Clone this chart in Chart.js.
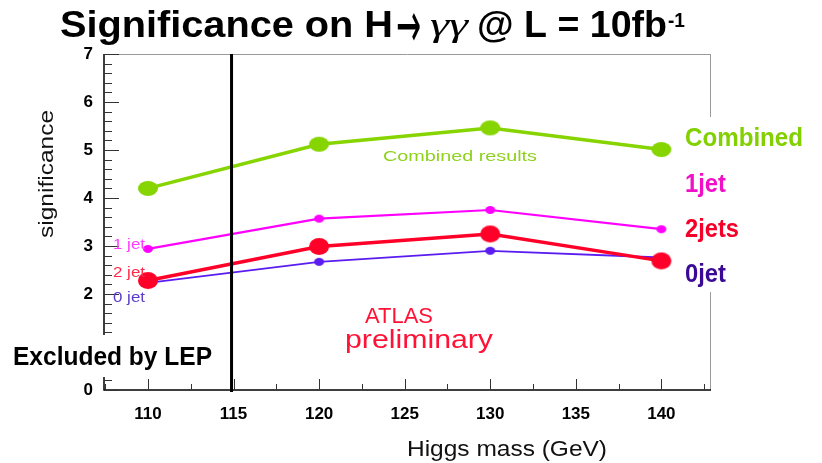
<!DOCTYPE html>
<html>
<head>
<meta charset="utf-8">
<script src="https://cdn.jsdelivr.net/npm/chart.js@4/dist/chart.umd.min.js"></script>
<style>
html,body{margin:0;padding:0;background:#fff;}
#wrap{width:822px;height:463px;position:relative;}
</style>
</head>
<body>
<div id="wrap"><canvas id="c" width="822" height="463"></canvas></div>
<script>
// ---- data ----
const masses = [110, 120, 130, 140];
const combined = [4.20, 5.12, 5.46, 5.01];
const oneJet = [2.94, 3.57, 3.75, 3.35];
const twoJets = [2.28, 2.99, 3.25, 2.69];
const zeroJet = [2.23, 2.67, 2.90, 2.76];
const xTickLabels = [110, 115, 120, 125, 130, 135, 140];
const yTickLabels = [0, 2, 3, 4, 5, 6, 7];
const lepLimit = 115;

function pts(vals){ return masses.map((m,i)=>({x:m, y:vals[i]})); }

// elliptical marker (the original picture is stretched horizontally)
function ellipse(color, rx, ry){
  const c = document.createElement('canvas');
  c.width = Math.ceil(rx*2) + 2; c.height = Math.ceil(ry*2) + 2;
  const g = c.getContext('2d');
  g.fillStyle = color;
  g.beginPath();
  g.ellipse(c.width/2, c.height/2, rx, ry, 0, 0, Math.PI*2);
  g.fill();
  return c;
}

function fitText(ctx, text, font, color, x, y, w, sy){
  ctx.save();
  ctx.font = font;
  ctx.fillStyle = color;
  ctx.textBaseline = 'alphabetic';
  ctx.textAlign = 'left';
  const m = ctx.measureText(text).width;
  ctx.translate(x, y);
  ctx.scale(w / m, sy || 1);
  ctx.fillText(text, 0, 0);
  ctx.restore();
}

const SANS = '"Liberation Sans", Arial, sans-serif';

const decor = {
  id: 'decor',
  beforeDraw(chart){
    const ctx = chart.ctx;
    ctx.save();
    ctx.fillStyle = '#fff';
    ctx.fillRect(0,0,chart.width,chart.height);
    ctx.restore();
  },
  afterDraw(chart){
    const ctx = chart.ctx;
    const xs = chart.scales.x, ys = chart.scales.y;
    const a = chart.chartArea;
    ctx.save();
    // frame
    ctx.strokeStyle = '#9a9a9a';
    ctx.lineWidth = 1;
    ctx.beginPath();
    ctx.moveTo(a.left, a.top + 0.5); ctx.lineTo(a.right, a.top + 0.5);
    ctx.moveTo(a.right - 0.5, a.top); ctx.lineTo(a.right - 0.5, a.bottom);
    ctx.stroke();
    ctx.strokeStyle = '#000';
    ctx.lineWidth = 1.5;
    ctx.beginPath();
    ctx.moveTo(a.left, a.top); ctx.lineTo(a.left, a.bottom);
    ctx.lineTo(a.right, a.bottom);
    ctx.stroke();
    // y ticks (inward)
    ctx.lineWidth = 1;
    ctx.strokeStyle = '#333';
    ctx.beginPath();
    for (let k = 0; k <= 35; k++){
      const v = k * 0.2;
      const py = Math.round(ys.getPixelForValue(v)) + 0.5;
      const len = (k % 5 === 0) ? 15 : 8;
      ctx.moveTo(a.left, py); ctx.lineTo(a.left + len, py);
    }
    // x ticks (inward)
    for (let v = 107.5; v <= 142.6; v += 2.5){
      const px = Math.round(xs.getPixelForValue(v)) + 0.5;
      const len = (Math.abs(v % 5) < 0.01) ? 11 : 6;
      ctx.moveTo(px, a.bottom); ctx.lineTo(px, a.bottom - len);
    }
    ctx.stroke();
    // LEP exclusion line
    ctx.strokeStyle = '#000';
    ctx.lineWidth = 3;
    const lx = xs.getPixelForValue(lepLimit) - 2;
    ctx.beginPath();
    ctx.moveTo(lx, a.top); ctx.lineTo(lx, a.bottom + 2);
    ctx.stroke();
    // white boxes behind labels
    ctx.fillStyle = '#fff';
    ctx.fillRect(8, 335, 208, 42);
    ctx.fillRect(680, 117, 142, 175);
    ctx.restore();

    // title
    fitText(ctx, 'Significance on H', 'bold 36px ' + SANS, '#000', 60, 37, 333);
    fitText(ctx, '\u2192', '40px "DejaVu Sans", sans-serif', '#000', 396, 47, 25, 1.6);
    fitText(ctx, '\u03b3\u03b3', 'italic 33px "Liberation Serif", serif', '#000', 430, 36, 38);
    fitText(ctx, '@ L = 10fb', 'bold 36px ' + SANS, '#000', 477, 37, 190);
    fitText(ctx, '-1', 'bold 20px ' + SANS, '#000', 668, 27, 17);

    // axis titles
    fitText(ctx, 'Higgs mass (GeV)', '22px ' + SANS, '#111', 407, 456, 200);
    ctx.save();
    ctx.translate(53, 238);
    ctx.rotate(-Math.PI/2);
    fitText(ctx, 'significance', '21px ' + SANS, '#111', 0, 0, 128);
    ctx.restore();

    // annotations
    fitText(ctx, 'Excluded by LEP', 'bold 25px ' + SANS, '#000', 13, 365, 199);
    fitText(ctx, 'ATLAS', '22px ' + SANS, '#ff1236', 365, 323, 68);
    fitText(ctx, 'preliminary', '25px ' + SANS, '#ff1236', 345, 348, 148);
    fitText(ctx, 'Combined results', '15px ' + SANS, '#8ed21e', 383, 161, 154);
    fitText(ctx, '1 jet', '14px ' + SANS, '#ff3cff', 113, 249, 32);
    fitText(ctx, '2 jet', '14px ' + SANS, '#ff2a4a', 113, 277, 32);
    fitText(ctx, '0 jet', '14px ' + SANS, '#5a3ccc', 113, 302, 32);

    fitText(ctx, 'Combined', 'bold 25px ' + SANS, '#82d000', 685, 146, 118);
    fitText(ctx, '1jet', 'bold 25px ' + SANS, '#f010c8', 685, 192, 41);
    fitText(ctx, '2jets', 'bold 25px ' + SANS, '#f40028', 685, 237, 54);
    fitText(ctx, '0jet', 'bold 25px ' + SANS, '#3a0a96', 685, 282, 41);
  }
};

const cGreen = '#86d400', cRed = '#ff0028', cMag = '#ff00ff', cBlue = '#5a1cf0';

new Chart(document.getElementById('c'), {
  type: 'scatter',
  data: {
    datasets: [
      { label: 'Combined', data: pts(combined), showLine: true, borderColor: cGreen, backgroundColor: cGreen,
        borderWidth: 3.5, pointStyle: ellipse(cGreen, 10, 7.5), pointRadius: 10, order: 1 },
      { label: '2jets', data: pts(twoJets), showLine: true, borderColor: cRed, backgroundColor: cRed,
        borderWidth: 3.5, pointStyle: ellipse(cRed, 10, 8.5), pointRadius: 10, order: 2 },
      { label: '1jet', data: pts(oneJet), showLine: true, borderColor: cMag, backgroundColor: cMag,
        borderWidth: 2.2, pointStyle: ellipse(cMag, 5, 4), pointRadius: 5, order: 3 },
      { label: '0jet', data: pts(zeroJet), showLine: true, borderColor: cBlue, backgroundColor: cBlue,
        borderWidth: 1.8, pointStyle: ellipse(cBlue, 5, 4), pointRadius: 5, order: 4 }
    ]
  },
  options: {
    responsive: false,
    devicePixelRatio: 1,
    animation: false,
    layout: { padding: { top: 54, right: 111, left: 0, bottom: 0 } },
    plugins: { legend: { display: false }, tooltip: { enabled: false }, title: { display: false } },
    scales: {
      x: {
        type: 'linear', min: 107.43, max: 142.9,
        afterBuildTicks: s => { s.ticks = xTickLabels.map(v => ({value: v})); },
        afterFit: s => { s.height = 73; },
        grid: { display: false, drawTicks: false },
        border: { display: false },
        ticks: { font: { family: SANS, size: 17, weight: 'bold' }, color: '#000', padding: 14, maxRotation: 0 }
      },
      y: {
        type: 'linear', min: 0, max: 7,
        afterBuildTicks: s => { s.ticks = yTickLabels.map(v => ({value: v})); },
        afterFit: s => { s.width = 104; },
        grid: { display: false, drawTicks: false },
        border: { display: false },
        ticks: { font: { family: SANS, size: 17, weight: 'bold' }, color: '#000', padding: 11 }
      }
    }
  },
  plugins: [decor]
});
</script>
</body>
</html>
